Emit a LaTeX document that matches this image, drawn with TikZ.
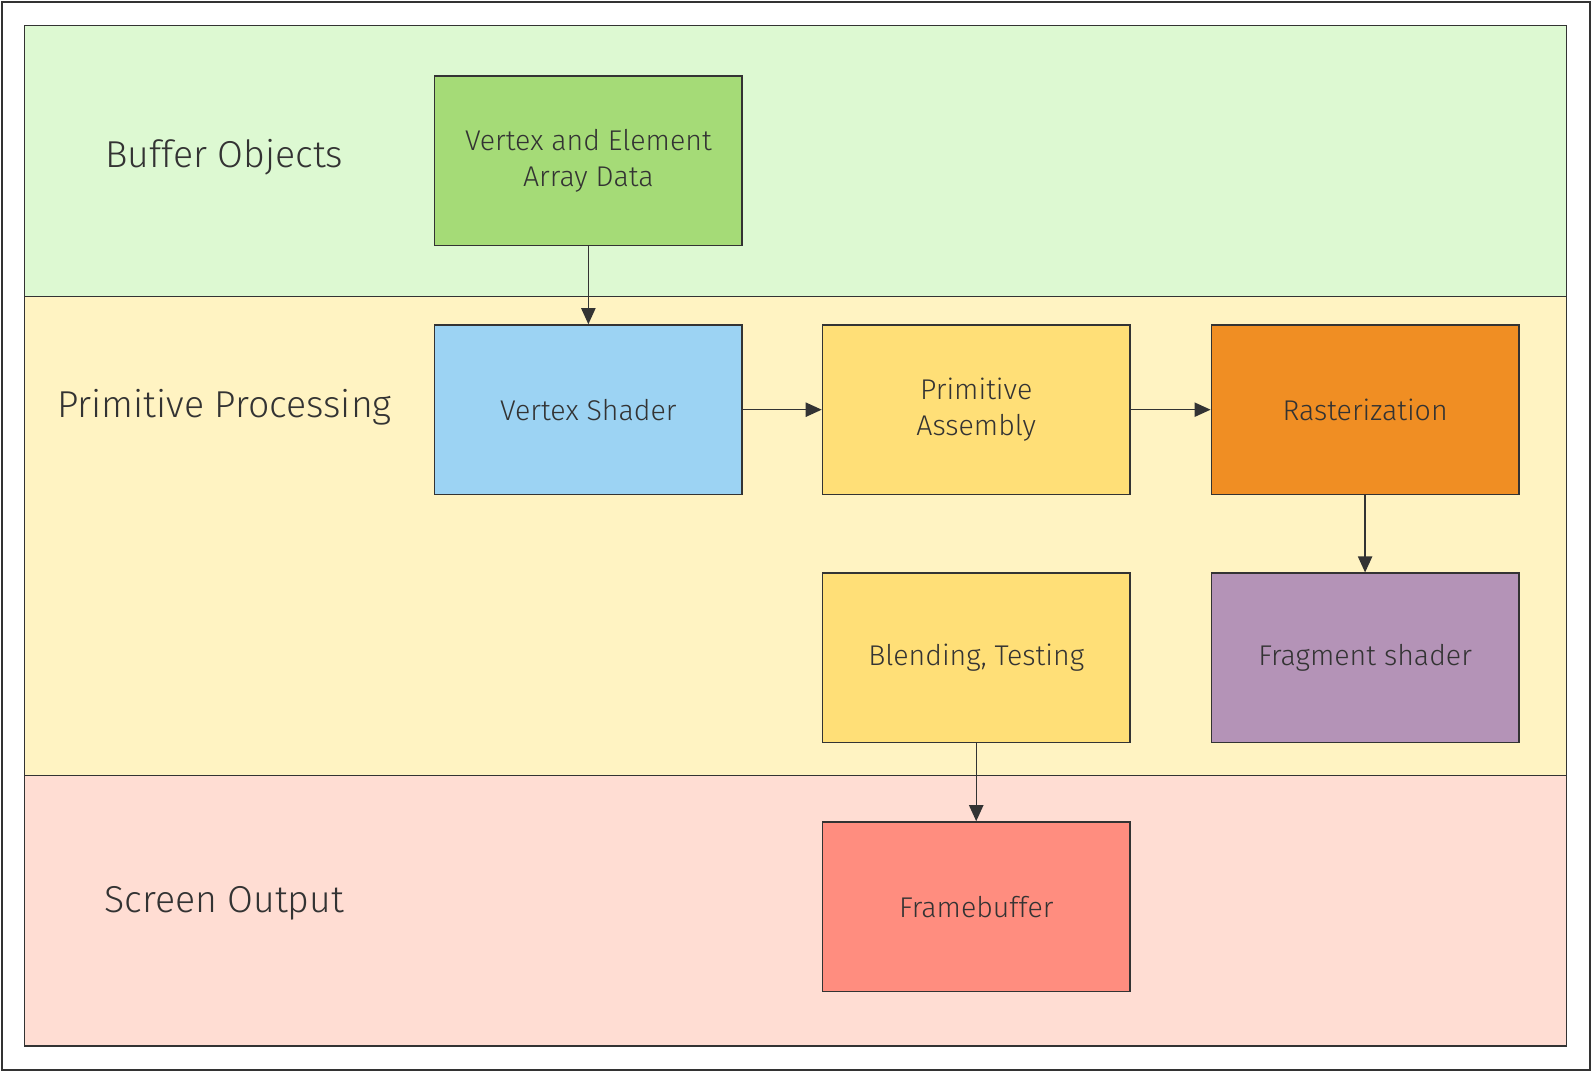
\documentclass[tikz,border=0pt]{standalone}
\usepackage{fontspec}
\setmainfont{Fira Sans Light}[BoldFont=Fira Sans]
\usetikzlibrary{arrows.meta}
\definecolor{bandgreen}{HTML}{DDF9D2}
\definecolor{bandyellow}{HTML}{FFF3C2}
\definecolor{bandpink}{HTML}{FFDDD3}
\definecolor{txt}{HTML}{333333}
\definecolor{datagreen}{HTML}{A5DB77}
\definecolor{shaderblue}{HTML}{9CD3F3}
\definecolor{stageyellow}{HTML}{FFDF77}
\definecolor{rasterorange}{HTML}{F08E23}
\definecolor{fragpurple}{HTML}{B493B7}
\definecolor{fbufred}{HTML}{FF8D7F}
\tikzset{
  stage/.style={draw=txt,thick,minimum width=6.06cm,minimum height=3.34cm,align=center,
    font=\fontsize{16}{20}\selectfont,text=txt},
  band/.style={draw=txt,thick},
  bandlabel/.style={font=\fontsize{21}{25}\selectfont,text=txt},
  flow/.style={-{Triangle[length=9pt,width=8pt]},thick,draw=txt}
}
\begin{document}
\begin{tikzpicture}[x=0.02cm,y=-0.02cm]
    \useasboundingbox (0,0) rectangle (1568,1056);
    \draw[txt,thick] (2,2) rectangle (1566,1054);
    \draw[band,fill=bandgreen] (24,25) rectangle (1543,292);
    \draw[band,fill=bandyellow] (24,292) rectangle (1543,764);
    \draw[band,fill=bandpink] (24,764) rectangle (1543,1030);

    \node[bandlabel] (lbuf) at (221,155) {Buffer Objects};
    \node[bandlabel] (lprim) at (221,401) {Primitive Processing};
    \node[bandlabel] (lscr) at (221,890) {Screen Output};

    \node[stage,fill=datagreen] (data) at (579.5,158.5) {Vertex and Element\\Array Data};
    \node[stage,fill=shaderblue] (vshader) at (579.5,403.5) {Vertex Shader};
    \node[stage,fill=stageyellow] (assembly) at (961.5,403.5) {Primitive\\Assembly};
    \node[stage,fill=rasterorange] (raster) at (1344.5,403.5) {Rasterization};
    \node[stage,fill=stageyellow] (blend) at (961.5,648) {Blending, Testing};
    \node[stage,fill=fragpurple] (fshader) at (1344.5,648) {Fragment shader};
    \node[stage,fill=fbufred] (fbuf) at (961.5,893) {Framebuffer};

    \draw[flow] (data) -- (vshader);
    \draw[flow] (vshader) -- (assembly);
    \draw[flow] (assembly) -- (raster);
    \draw[flow] (raster) -- (fshader);
    \draw[flow] (blend) -- (fbuf);
\end{tikzpicture}
\end{document}
